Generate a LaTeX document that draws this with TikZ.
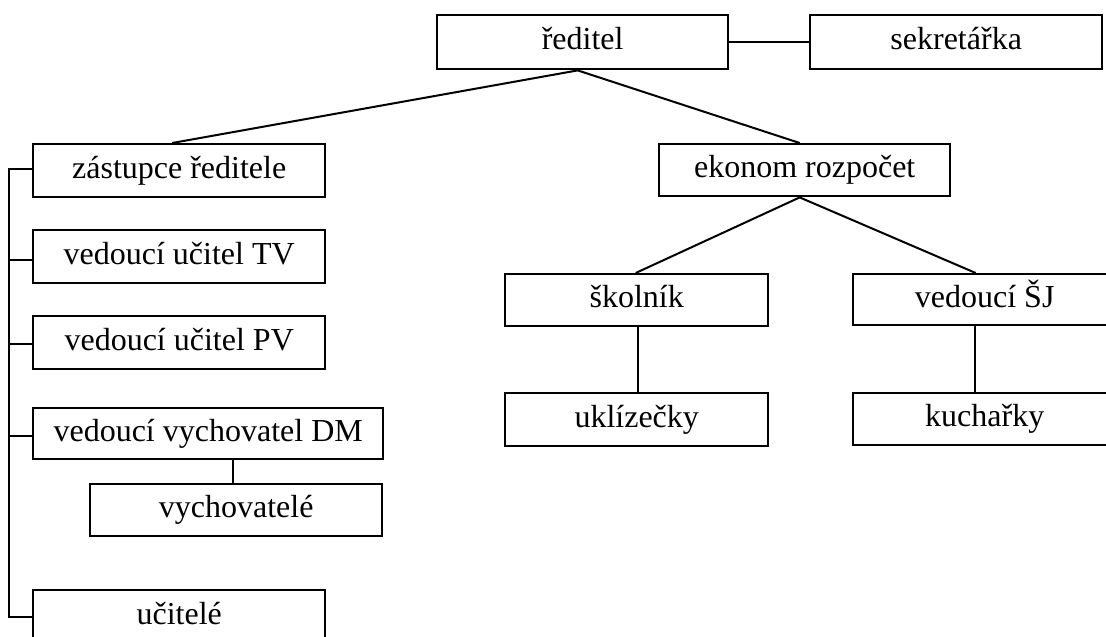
\documentclass[tikz,border=0pt]{standalone}
\usepackage{fontspec}
\setmainfont{Liberation Serif}
\begin{document}
\begin{tikzpicture}[x=1pt,y=-1pt,
  box/.style={draw, line width=2.4pt, anchor=north west, inner sep=0pt,
    text height=22pt, text depth=7pt, font=\fontsize{32}{38}\selectfont},
  conn/.style={line width=2pt}]
\useasboundingbox (0,0) rectangle (1106,637);
\clip (0,0) rectangle (1106,637);
\fill[white] (0,0) rectangle (1106,637);
% top
\node[box, minimum width=291pt, minimum height=54pt] (red) at (436,14) {ředitel};
\node[box, minimum width=292pt, minimum height=54pt] (sek) at (809,14) {sekretářka};
% left column
\node[box, minimum width=292pt, minimum height=53pt] (zas) at (32,143) {zástupce ředitele};
\node[box, minimum width=292pt, minimum height=53pt] (tv) at (32,229) {vedoucí učitel TV};
\node[box, minimum width=292pt, minimum height=53pt] (pv) at (32,315) {vedoucí učitel PV};
\node[box, minimum width=350pt, minimum height=51pt] (dm) at (32,407) {vedoucí vychovatel DM};
\node[box, minimum width=292pt, minimum height=52pt] (vych) at (89,483) {vychovatelé};
\node[box, minimum width=292pt, minimum height=54pt] (uc) at (32,589) {učitelé};
% right part
\node[box, minimum width=291pt, minimum height=52pt] (eko) at (658,143) {ekonom rozpočet};
\node[box, minimum width=263pt, minimum height=52pt] (skol) at (504,273) {školník};
\node[box, minimum width=263pt, minimum height=51pt] (sj) at (852,273) {vedoucí ŠJ};
\node[box, minimum width=263pt, minimum height=53pt] (ukl) at (504,392) {uklízečky};
\node[box, minimum width=263pt, minimum height=52pt] (kuch) at (852,392) {kuchařky};
% connectors
\draw[conn] (red.east) -- (sek.west);
\draw[conn] ([xshift=-5pt]red.south) -- ([xshift=-7pt]zas.north);
\draw[conn] ([xshift=-5pt]red.south) -- ([xshift=-5pt]eko.north);
\draw[conn] ([xshift=-5pt]eko.south) -- ([xshift=-1pt]skol.north);
\draw[conn] ([xshift=-5pt]eko.south) -- ([xshift=-9pt]sj.north);
\draw[conn] ([xshift=1pt]skol.south) -- ([xshift=1pt]ukl.north);
\draw[conn] ([xshift=-10pt]sj.south) -- ([xshift=-10pt]kuch.north);
\draw[conn] ([xshift=-3pt]vych.north) -- ([xshift=-3pt]vych.north |- dm.south);
\draw[conn] ([yshift=2pt]zas.west) -- ++(-23,0) |- (uc.west);
\draw[conn] ([yshift=-3pt]tv.west) -- ++(-23,0);
\draw[conn] ([yshift=-1pt]pv.west) -- ++(-23,0);
\draw[conn] ([yshift=-2pt]dm.west) -- ++(-23,0);
\end{tikzpicture}
\end{document}
